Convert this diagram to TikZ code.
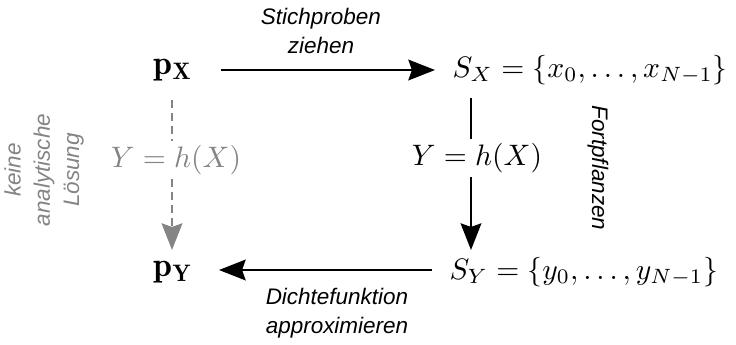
\documentclass[tikz,border=0pt]{standalone}
\usepackage{amsmath}
\usepackage{fontspec}
\newfontfamily\lblfont{Liberation Sans}
\usetikzlibrary{arrows.meta}
\definecolor{lightgr}{RGB}{132,132,132}
\tikzset{
  lbl/.style={font=\lblfont\itshape\fontsize{7.6}{9.9}\selectfont, align=center, inner sep=0pt},
  mth/.style={inner xsep=1pt, inner ysep=1.3pt},
  pnode/.style={inner sep=0pt, font=\fontsize{11.5}{14}\selectfont},
  plain/.style={line width=0.72pt},
  conn/.style={plain, -{Stealth[length=9pt,width=7pt,inset=1.2pt]}},
  gplain/.style={plain, lightgr, dash pattern=on 2.7pt off 1.7pt},
  gconn/.style={gplain, -{Stealth[length=9pt,width=7pt,inset=1.2pt]}},
}
\begin{document}
\begin{tikzpicture}[x=0.338pt,y=-0.338pt]
\useasboundingbox (0,0) rectangle (736,344);
\node[pnode] (px) at (173,70) {$\mathbf{p}_{\mathbf{X}}$};
\node[pnode] (py) at (173,272) {$\mathbf{p}_{\mathbf{Y}}$};
\node[mth, anchor=west] (sx) at (449,70) {$S_X=\{x_0,\ldots,x_{N-1}\}$};
\node[mth, anchor=west] (sy) at (446,272) {$S_Y=\{y_0,\ldots,y_{N-1}\}$};
\coordinate (sxb) at (471,98);
\coordinate (syt) at (471,250);
\coordinate (pxb) at (172,100);
\coordinate (pyt) at (172,250);
\coordinate (a1) at (221,70);
\coordinate (a2) at (435,70);
\coordinate (b1) at (432,270);
\coordinate (b2) at (219,270);
\node[mth] (hr) at (477,158) {$Y=h(X)$};
\node[mth, text=lightgr] (hl) at (176,160) {$Y=h(X)$};
\draw[conn] (a1) -- (a2);
\draw[conn] (b1) -- (b2);
\draw[plain] (sxb) -- (hr.north -| sxb);
\draw[conn] (hr.south -| sxb) -- (syt);
\draw[gplain] (pxb) -- (hl.north -| pxb);
\draw[gconn] (hl.south -| pxb) -- (pyt);
\node[lbl] (t1) at (321,31) {Stichproben\\ziehen};
\node[lbl] (t2) at (337,313) {Dichtefunktion\\approximieren};
\node[lbl, rotate=-90] (t3) at (598,168) {Fortpflanzen};
\node[lbl, rotate=90, text=lightgr] (t4) at (44,170) {keine\\analytische\\Lösung};
\end{tikzpicture}
\end{document}
